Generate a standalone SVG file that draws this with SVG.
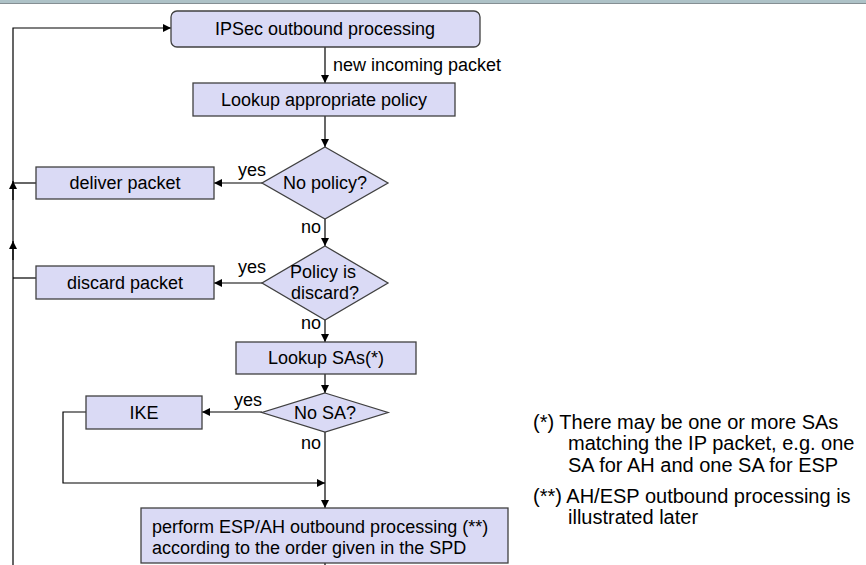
<svg xmlns="http://www.w3.org/2000/svg" width="866" height="565" viewBox="0 0 866 565">
<defs>
<marker id="ah" viewBox="0 0 10 10" refX="10" refY="5" markerWidth="8" markerHeight="8" markerUnits="userSpaceOnUse" orient="auto">
<path d="M0,0 L10,5 L0,10 z" fill="#000"/>
</marker>
<style>
.box{fill:#dadaf5;stroke:#404040;stroke-width:1.3}
.t{font-family:"Liberation Sans",Arial,sans-serif;font-size:18px;fill:#000}
.c{text-anchor:middle}
.fn{font-family:"Liberation Sans",Arial,sans-serif;font-size:20px;fill:#000}
.ln{fill:none;stroke:#000;stroke-width:1.2}
.la{fill:none;stroke:#000;stroke-width:1.2;marker-end:url(#ah)}
</style>
</defs>
<rect width="866" height="565" fill="#fff"/>
<rect x="0" y="0" width="866" height="3" fill="#aec2c7"/>
<rect x="0" y="3" width="866" height="1" fill="#858f93"/>

<g id="connectors">
<path class="la" d="M325,47 V83"/>
<path class="la" d="M325,116 V147"/>
<path class="la" d="M262,183 H214"/>
<path class="la" d="M325,219 V246"/>
<path class="la" d="M262,283 H214"/>
<path class="la" d="M325,320 V342"/>
<path class="la" d="M325,374 V393"/>
<path class="la" d="M262,412 H202"/>
<path class="la" d="M86,412 H63 V483 H325"/>
<path class="la" d="M325,432 V508"/>
<path class="ln" d="M325,557 V565"/>
<path class="ln" d="M36,183 H13"/>
<path class="ln" d="M36,278 H13"/>
<path class="la" d="M13,565 V28 H171"/>
<path class="la" d="M13,200 V181"/>
<path class="la" d="M13,260 V241"/>
</g>

<g id="label-new">
<text class="t" x="333" y="71">new incoming packet</text>
</g>
<g id="label-yes1"><text class="t c" x="252" y="176">yes</text></g>
<g id="label-no1"><text class="t c" x="311" y="233">no</text></g>
<g id="label-yes2"><text class="t c" x="252" y="273">yes</text></g>
<g id="label-no2"><text class="t c" x="311" y="329">no</text></g>
<g id="label-yes3"><text class="t c" x="248" y="406">yes</text></g>
<g id="label-no3"><text class="t c" x="311" y="449">no</text></g>

<g id="start">
<rect class="box" x="171" y="11" width="309" height="36" rx="6"/>
<text class="t c" x="325" y="35">IPSec outbound processing</text>
</g>
<g id="lookup-policy">
<rect class="box" x="193" y="83" width="262" height="33"/>
<text class="t c" x="324" y="106">Lookup appropriate policy</text>
</g>
<g id="no-policy">
<polygon class="box" points="325,147 388,183 325,219 262,183"/>
<text class="t c" x="325" y="189">No policy?</text>
</g>
<g id="deliver">
<rect class="box" x="36" y="167" width="178" height="32"/>
<text class="t c" x="125" y="189">deliver packet</text>
</g>
<g id="policy-discard">
<polygon class="box" points="325,246 388,283 325,320 262,283"/>
<text class="t c" x="323" y="278">Policy is</text>
<text class="t c" x="325" y="299">discard?</text>
</g>
<g id="discard">
<rect class="box" x="36" y="266" width="178" height="33"/>
<text class="t c" x="125" y="289">discard packet</text>
</g>
<g id="lookup-sa">
<rect class="box" x="236" y="342" width="180" height="32"/>
<text class="t c" x="326" y="364">Lookup SAs(*)</text>
</g>
<g id="no-sa">
<polygon class="box" points="325,393 388,412.5 325,432 262,412.5"/>
<text class="t c" x="325" y="419">No SA?</text>
</g>
<g id="ike">
<rect class="box" x="86" y="396" width="116" height="33"/>
<text class="t c" x="144" y="419">IKE</text>
</g>
<g id="perform">
<rect class="box" x="141" y="508" width="367" height="55"/>
<text class="t" x="152" y="533">perform ESP/AH outbound processing (**)</text>
<text class="t" x="152" y="554">according to the order given in the SPD</text>
</g>

<g id="footnotes">
<text class="fn" x="533" y="429">(*) There may be one or more SAs</text>
<text class="fn" x="568" y="450">matching the IP packet, e.g. one</text>
<text class="fn" x="568" y="472">SA for AH and one SA for ESP</text>
<text class="fn" x="533" y="503">(**) AH/ESP outbound processing is</text>
<text class="fn" x="568" y="524">illustrated later</text>
</g>
</svg>
